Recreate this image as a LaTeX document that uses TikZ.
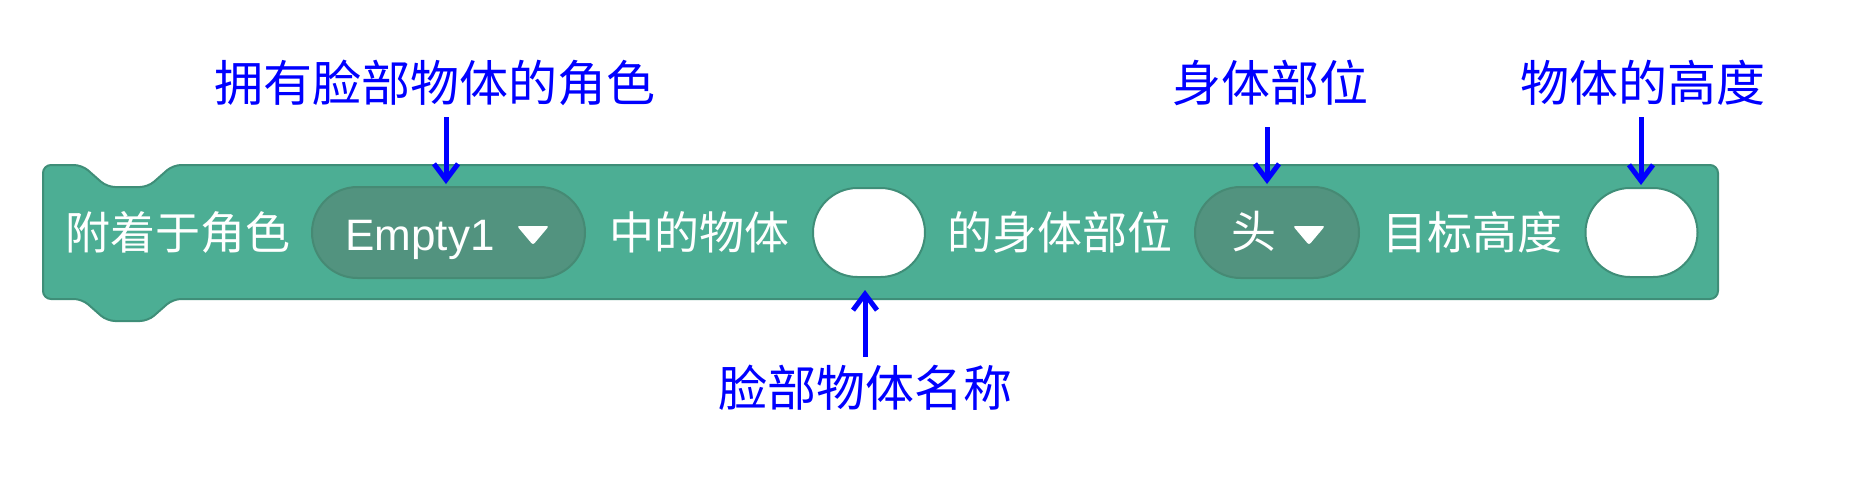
\documentclass[tikz,border=0pt]{standalone}
\usepackage{fontspec}
\setmainfont{Liberation Sans}
\newfontfamily\cjk{Noto Sans CJK SC}
\usetikzlibrary{arrows.meta,shapes.misc}
\definecolor{blockfill}{HTML}{4CAE94}
\definecolor{blockline}{HTML}{3F8E78}
\definecolor{pillfill}{HTML}{52937F}
\definecolor{pillline}{HTML}{468A74}
\definecolor{labelblue}{HTML}{0000FF}
\tikzset{
  blocktext/.style={text=white,inner sep=0pt,font=\cjk\fontsize{22.5pt}{26pt}\selectfont},
  latintext/.style={text=white,inner sep=0pt,font=\fontsize{22pt}{26pt}\selectfont},
  pill/.style={rounded rectangle,draw=pillline,fill=pillfill,line width=1pt,minimum height=45.5pt,inner sep=0pt},
  whiteoval/.style={rounded rectangle,draw=blockline,fill=white,line width=1pt,minimum height=44.5pt,minimum width=56pt,inner sep=0pt},
  annot/.style={text=labelblue,inner sep=0pt,font=\cjk\fontsize{24.5pt}{28pt}\selectfont},
  arr/.style={draw=labelblue,line width=2.5pt,-{Straight Barb[length=8pt,width=12pt,line width=2.5pt]}},
  tri/.style={fill=white,rounded corners=1.2pt}
}
\begin{document}
\begin{tikzpicture}[x=0.5pt,y=-0.5pt]
\useasboundingbox (0,0) rectangle (1860,488);
% block body
\draw[fill=blockfill,draw=blockline,line width=1pt,rounded corners=4pt]
  (43,165) -- (82,165) -- (107,187) -- (148,187) -- (173,165) -- (1718,165)
  -- (1718,299) -- (173,299) -- (148,321) -- (107,321) -- (82,299) -- (43,299) -- cycle;
% block contents
\node[blocktext] (t1) at (178,232) {附着于角色};
\node[pill,minimum width=136.5pt] (p1) at (448.5,232.5) {};
\node[latintext,anchor=base west] (e1) at (345,250) {Empty1};
\fill[tri] (517,226) -- (549,226) -- (533,245) -- cycle;
\node[blocktext] (t2) at (699,232) {中的物体};
\node[whiteoval] (o1) at (869,232.5) {};
\node[blocktext] (t3) at (1060,232) {的身体部位};
\node[pill,minimum width=82pt] (p2) at (1277,232.5) {};
\node[blocktext] (h1) at (1254,232) {头};
\fill[tri] (1293,226) -- (1325,226) -- (1309,245) -- cycle;
\node[blocktext] (t4) at (1472,232) {目标高度};
\node[whiteoval] (o2) at (1641.5,232.5) {};
% annotations
\node[annot] (l1) at (435,83) {拥有脸部物体的角色};
\node[annot] (l2) at (1270,83) {身体部位};
\node[annot] (l3) at (1643,83) {物体的高度};
\node[annot] (l4) at (865,388) {脸部物体名称};
\coordinate (a1) at (446,117);
\coordinate (a2) at (1267,127);
\coordinate (a3) at (1641,117);
\coordinate (a4) at (865,357);
\draw[arr,shorten >=1pt] (a1) -- (a1 |- p1.north);
\draw[arr,shorten >=1pt] (a2) -- (a2 |- p2.north);
\draw[arr,shorten >=1pt] (a3) -- (a3 |- o2.north);
\draw[arr,shorten >=6pt] (a4) -- (a4 |- o1.south);
\end{tikzpicture}
\end{document}
